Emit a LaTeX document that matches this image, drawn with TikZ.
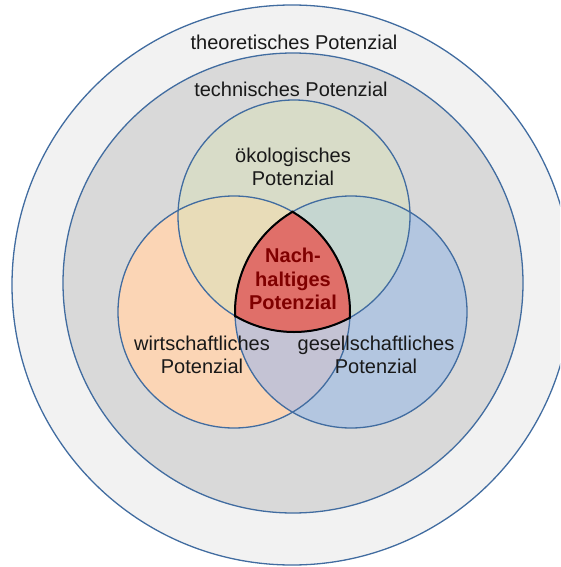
\documentclass[tikz,border=0pt]{standalone}
\usepackage{fontspec}
\setmainfont{Liberation Sans}
\definecolor{ringline}{RGB}{65,108,160}
\definecolor{outerfill}{HTML}{F2F2F2}
\definecolor{techfill}{HTML}{D9D9D9}
\definecolor{ecofill}{HTML}{D8DCC8}
\definecolor{econfill}{HTML}{FBD5B5}
\definecolor{socfill}{HTML}{B3C6E0}
\definecolor{ecoeconfill}{HTML}{E8DCB8}
\definecolor{ecosocfill}{HTML}{C5D6D0}
\definecolor{econsocfill}{HTML}{C4C3D4}
\definecolor{corefill}{HTML}{E06F69}
\definecolor{coretext}{RGB}{128,0,0}
\begin{document}
\begin{tikzpicture}[x=1pt,y=-1pt,
  ring/.style={draw=ringline,line width=1.3pt},
  lbl/.style={font=\fontsize{20}{23.5}\selectfont,align=center,inner sep=0pt,text=black!90},
  corelbl/.style={font=\bfseries\fontsize{20}{23.5}\selectfont,align=center,inner sep=0pt,text=coretext}]
\path[use as bounding box] (0,0) rectangle (560,567);
\clip (0,0) rectangle (560,567);
\coordinate (O) at (292,285);
\coordinate (T) at (293,283);
\coordinate (E) at (294,216);
\coordinate (W) at (234,312);
\coordinate (G) at (351,312);
\def\rO{280}\def\rT{230}\def\rC{116}
% rings
\fill[outerfill] (O) circle[radius=\rO];
\draw[ring] (O) circle[radius=\rO];
\fill[techfill] (T) circle[radius=\rT];
\draw[ring] (T) circle[radius=\rT];
% base fills
\fill[econfill] (W) circle[radius=\rC];
\fill[socfill] (G) circle[radius=\rC];
\fill[ecofill] (E) circle[radius=\rC];
% pairwise overlaps
\begin{scope}\clip (E) circle[radius=\rC]; \fill[ecoeconfill] (W) circle[radius=\rC];\end{scope}
\begin{scope}\clip (E) circle[radius=\rC]; \fill[ecosocfill] (G) circle[radius=\rC];\end{scope}
\begin{scope}\clip (W) circle[radius=\rC]; \fill[econsocfill] (G) circle[radius=\rC];\end{scope}
% core
\begin{scope}\clip (E) circle[radius=\rC]; \clip (W) circle[radius=\rC]; \fill[corefill] (G) circle[radius=\rC];\end{scope}
% outlines
\draw[ring] (W) circle[radius=\rC];
\draw[ring] (G) circle[radius=\rC];
\draw[ring] (E) circle[radius=\rC];
% core outline
\begin{scope}\clip (W) circle[radius=\rC+1]; \clip (G) circle[radius=\rC+1]; \draw[black,line width=2pt] (E) circle[radius=\rC];\end{scope}
\begin{scope}\clip (E) circle[radius=\rC+1]; \clip (G) circle[radius=\rC+1]; \draw[black,line width=2pt] (W) circle[radius=\rC];\end{scope}
\begin{scope}\clip (E) circle[radius=\rC+1]; \clip (W) circle[radius=\rC+1]; \draw[black,line width=2pt] (G) circle[radius=\rC];\end{scope}
% labels
\node[lbl] (theo) at (294,42) {theoretisches Potenzial};
\node[lbl] (tech) at (291,89) {technisches Potenzial};
\node[lbl] (eco) at (293,167) {ökologisches\\Potenzial};
\node[lbl] (econ) at (202,355) {wirtschaftliches\\Potenzial};
\node[lbl] (soc) at (376,355) {gesellschaftliches\\Potenzial};
\node[corelbl] (core) at (293,279) {Nach-\\haltiges\\Potenzial};
\end{tikzpicture}
\end{document}
